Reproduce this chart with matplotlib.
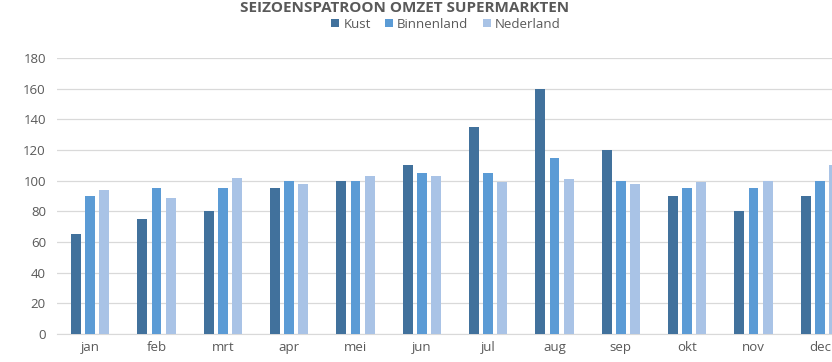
import numpy as np
import matplotlib
matplotlib.use("Agg")
import matplotlib.pyplot as plt

maanden = ["jan", "feb", "mrt", "apr", "mei", "jun", "jul", "aug", "sep", "okt", "nov", "dec"]
kust = [65, 75, 80, 95, 100, 110, 135, 160, 120, 90, 80, 90]
binnenland = [90, 95, 95, 100, 100, 105, 105, 115, 100, 95, 95, 100]
nederland = [94, 89, 102, 98, 103, 103, 99, 101, 98, 99, 100, 110]

series = [("Kust", kust, "#41719C"),
          ("Binnenland", binnenland, "#5B9BD5"),
          ("Nederland", nederland, "#A9C3E6")]

plt.rcParams["font.family"] = ["Open Sans", "DejaVu Sans"]
grey = "#595959"

fig = plt.figure(figsize=(8.32, 3.62), dpi=100)
ax = fig.add_axes([57 / 832, 1 - 334 / 362, 796 / 832, 276 / 362])

x = np.arange(len(maanden))
w = 0.15
step = 0.215
for i, (name, vals, col) in enumerate(series):
    ax.bar(x + (i - 1) * step, vals, width=w, color=col, label=name, zorder=3)

ax.set_xlim(-0.5, len(maanden) - 0.5)
ax.set_ylim(0, 180)
ax.set_yticks(np.arange(0, 181, 20))
ax.set_xticks(x)
ax.set_xticklabels(maanden)
ax.yaxis.grid(True, color="#D9D9D9", linewidth=0.9, zorder=0)
for s in ["top", "right", "left"]:
    ax.spines[s].set_visible(False)
ax.spines["bottom"].set_color("#D9D9D9")
ax.tick_params(axis="both", length=0, labelsize=9.5, colors=grey)
ax.tick_params(axis="x", pad=5)
ax.tick_params(axis="y", pad=8)

fig.text(405 / 832, 1 - 12 / 362, "SEIZOENSPATROON OMZET SUPERMARKTEN",
         ha="center", va="baseline", fontsize=11, fontweight="bold", color=grey)

ax.legend(loc="center", bbox_to_anchor=(446 / 832, 1 - 24 / 362),
          bbox_transform=fig.transFigure, ncol=3, frameon=False,
          fontsize=9.5, labelcolor=grey, handlelength=0.6, handleheight=0.6,
          handletextpad=0.3, columnspacing=1.1)

plt.savefig("out.png", dpi=100)
